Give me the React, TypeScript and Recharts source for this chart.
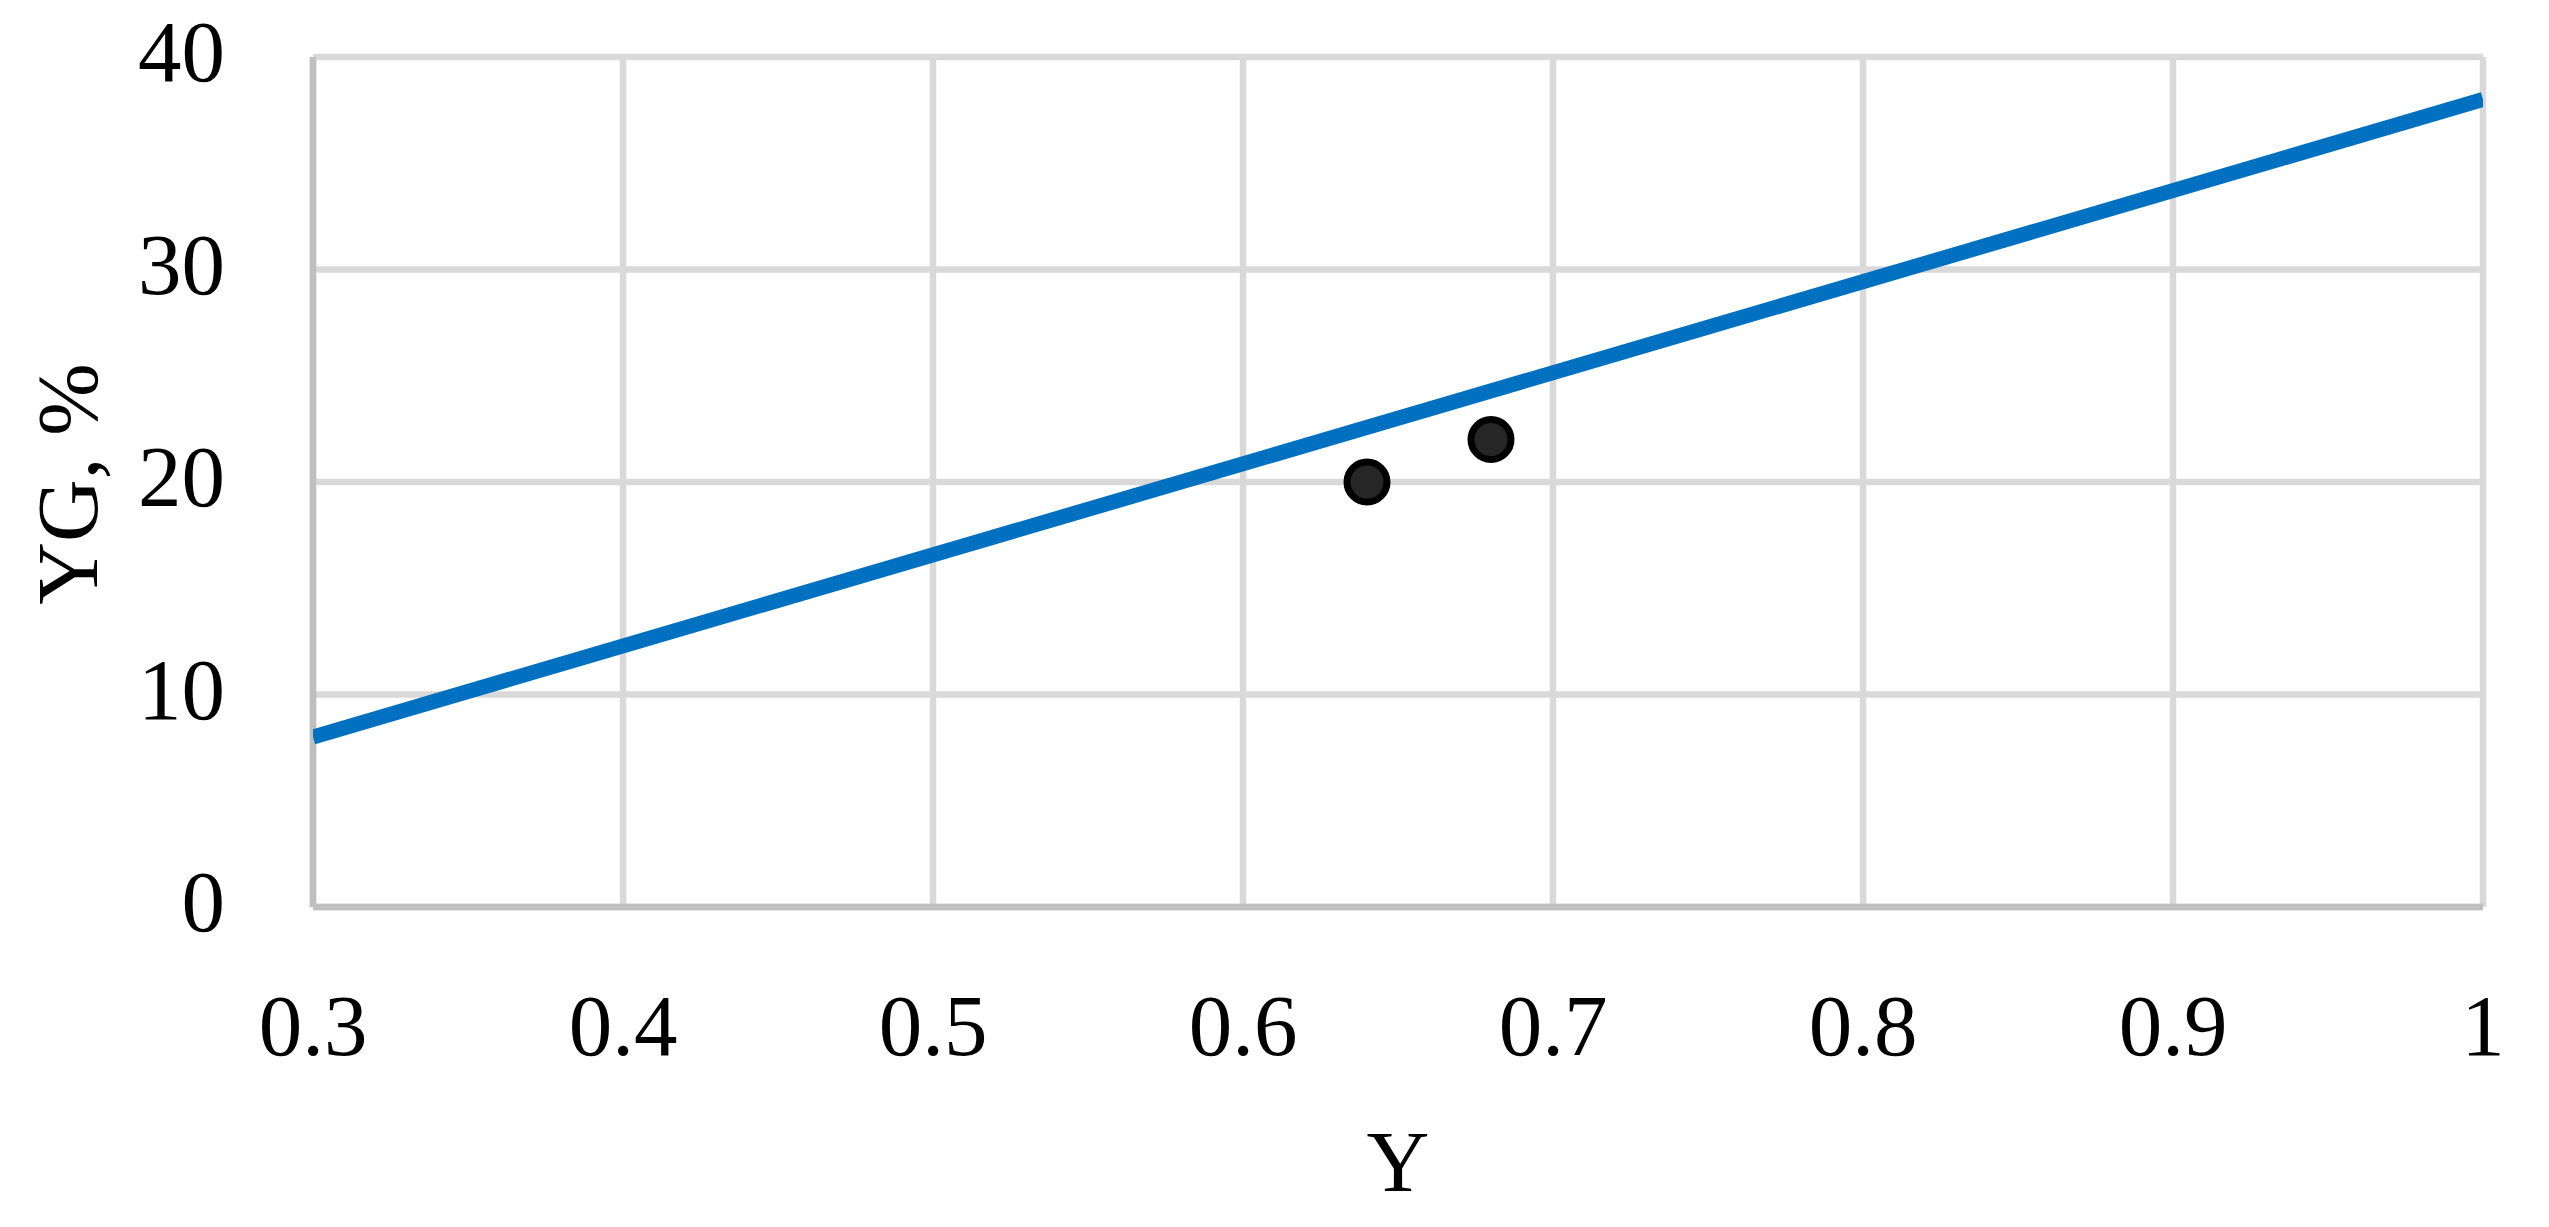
import { ScatterChart, Scatter, XAxis, YAxis, CartesianGrid, Label } from "recharts";

// trend line (model) and observed points
const trendY = [0.3, 1];
const trendYG = [8, 38];
const obsY = [0.64, 0.68];
const obsYG = [20, 22];

const xTicks = [0.3, 0.4, 0.5, 0.6, 0.7, 0.8, 0.9, 1];
const yTicks = [0, 10, 20, 30, 40];

const trendData = trendY.map((x, i) => ({ x, y: trendYG[i] }));
const obsData = obsY.map((x, i) => ({ x, y: obsYG[i] }));

const FONT = '"Liberation Serif", "Times New Roman", serif';
const FONT_SIZE = 87;

const XTick = (props: any) => (
  <text
    x={props.x}
    y={props.y + 148}
    textAnchor="middle"
    fontFamily={FONT}
    fontSize={FONT_SIZE}
    fill="#000"
  >
    {String(props.payload.value)}
  </text>
);

const YTick = (props: any) => (
  <text
    x={props.x}
    y={props.y + 24}
    textAnchor="end"
    fontFamily={FONT}
    fontSize={FONT_SIZE}
    fill="#000"
  >
    {String(props.payload.value)}
  </text>
);

const Dot = (props: any) => (
  <circle
    cx={props.cx}
    cy={props.cy}
    r={20}
    fill="#262626"
    stroke="#000"
    strokeWidth={7}
  />
);

const NoShape = () => <g />;

export default function App() {
  return (
    <div
      style={{
        position: "absolute",
        left: 0,
        top: 0,
        width: 2549,
        height: 1227,
        background: "#fff",
      }}
    >
      <ScatterChart
        width={2549}
        height={1227}
        margin={{ top: 57, right: 66, left: 20, bottom: 100 }}
      >
        <CartesianGrid stroke="#d9d9d9" strokeWidth={6.5} />
        <XAxis
          type="number"
          dataKey="x"
          domain={[0.3, 1]}
          ticks={xTicks}
          allowDataOverflow
          height={220}
          tickLine={false}
          tickSize={0}
          tickMargin={0}
          axisLine={{ stroke: "#bfbfbf", strokeWidth: 6.5 }}
          tick={<XTick />}
        >
          <Label
            content={(p: any) => {
              const vb = p.viewBox || { x: 333, y: 907, width: 2150 };
              return (
                <text
                  x={vb.x + vb.width / 2}
                  y={vb.y + 284}
                  textAnchor="middle"
                  fontFamily={FONT}
                  fontSize={FONT_SIZE}
                  fill="#000"
                >
                  Y
                </text>
              );
            }}
          />
        </XAxis>
        <YAxis
          type="number"
          dataKey="y"
          domain={[0, 40]}
          ticks={yTicks}
          allowDataOverflow
          width={293}
          tickLine={false}
          tickSize={0}
          tickMargin={88}
          axisLine={{ stroke: "#bfbfbf", strokeWidth: 6.5 }}
          tick={<YTick />}
        >
          <Label
            content={(p: any) => {
              const vb = p.viewBox || { x: 20, y: 57, height: 850 };
              const bx = vb.x + 77;
              const cy = vb.y + vb.height / 2 + 2;
              return (
                <text
                  x={bx}
                  y={cy}
                  transform={`rotate(-90 ${bx} ${cy})`}
                  textAnchor="middle"
                  fontFamily={FONT}
                  fontSize={FONT_SIZE}
                  fill="#000"
                >
                  YG, %
                </text>
              );
            }}
          />
        </YAxis>
        <Scatter
          data={trendData}
          line={{ stroke: "#0070c0", strokeWidth: 15 }}
          shape={<NoShape />}
          isAnimationActive={false}
        />
        <Scatter data={obsData} shape={<Dot />} isAnimationActive={false} />
      </ScatterChart>
    </div>
  );
}
